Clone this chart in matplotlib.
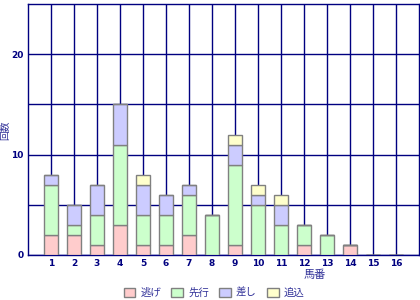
import matplotlib
matplotlib.use('Agg')
import matplotlib.pyplot as plt
import numpy as np

plt.rcParams['font.family'] = ['Noto Sans CJK JP', 'DejaVu Sans']

# 馬番ごとの脚質別回数
horses = list(range(1, 17))
nige   = [2, 2, 1, 3, 1, 1, 2, 0, 1, 0, 0, 1, 0, 1, 0, 0]   # 逃げ
senko  = [5, 1, 3, 8, 3, 3, 4, 4, 8, 5, 3, 2, 2, 0, 0, 0]   # 先行
sashi  = [1, 2, 3, 4, 3, 2, 1, 0, 2, 1, 2, 0, 0, 0, 0, 0]   # 差し
oikomi = [0, 0, 0, 0, 1, 0, 0, 0, 1, 1, 1, 0, 0, 0, 0, 0]   # 追込

labels = ['逃げ', '先行', '差し', '追込']
colors = ['#FFCCCC', '#CCFFCC', '#CCCCFF', '#FFFFCC']
navy = '#000080'

fig = plt.figure(figsize=(4.2, 3.0), dpi=100)
ax = fig.add_axes([28 / 420, 45 / 300, 391 / 420, 251 / 300])

bottom = np.zeros(len(horses))
for vals, lab, col in zip([nige, senko, sashi, oikomi], labels, colors):
    v = np.array(vals)
    ax.bar(horses, v, width=0.6, bottom=bottom, color=col, edgecolor='#808080',
           linewidth=1.0, label=lab, zorder=3)
    bottom += v

ax.set_xlim(0, 17)
ax.set_ylim(0, 25)
ax.set_xticks(horses)
ax.set_xticklabels([str(h) for h in horses], fontsize=6.5, color=navy,
                   family='DejaVu Sans', fontweight='bold')
ax.set_yticks([0, 5, 10, 15, 20])
ax.set_yticklabels(['0', '', '10', '', '20'], fontsize=6.5, color=navy,
                   family='DejaVu Sans', fontweight='bold')
ax.tick_params(length=0, pad=3)
ax.grid(True, color=navy, linewidth=1.0, zorder=0)
for s in ax.spines.values():
    s.set_color(navy)
    s.set_linewidth(1.0)

fig.text(315 / 420, 1 - 275 / 300, '馬番', ha='center', va='center',
         fontsize=8, color='#333399')
fig.text(5 / 420, 1 - 130 / 300, '回数', ha='center', va='center',
         rotation=90, fontsize=7, color='#333399')

fig.legend(loc='center', bbox_to_anchor=(214 / 420, 1 - 293 / 300), ncol=4,
           frameon=False, fontsize=7.5, handlelength=1.1, handleheight=0.9,
           handletextpad=0.5, columnspacing=1.0, labelcolor='#333399')

fig.savefig('out.png', dpi=100)
